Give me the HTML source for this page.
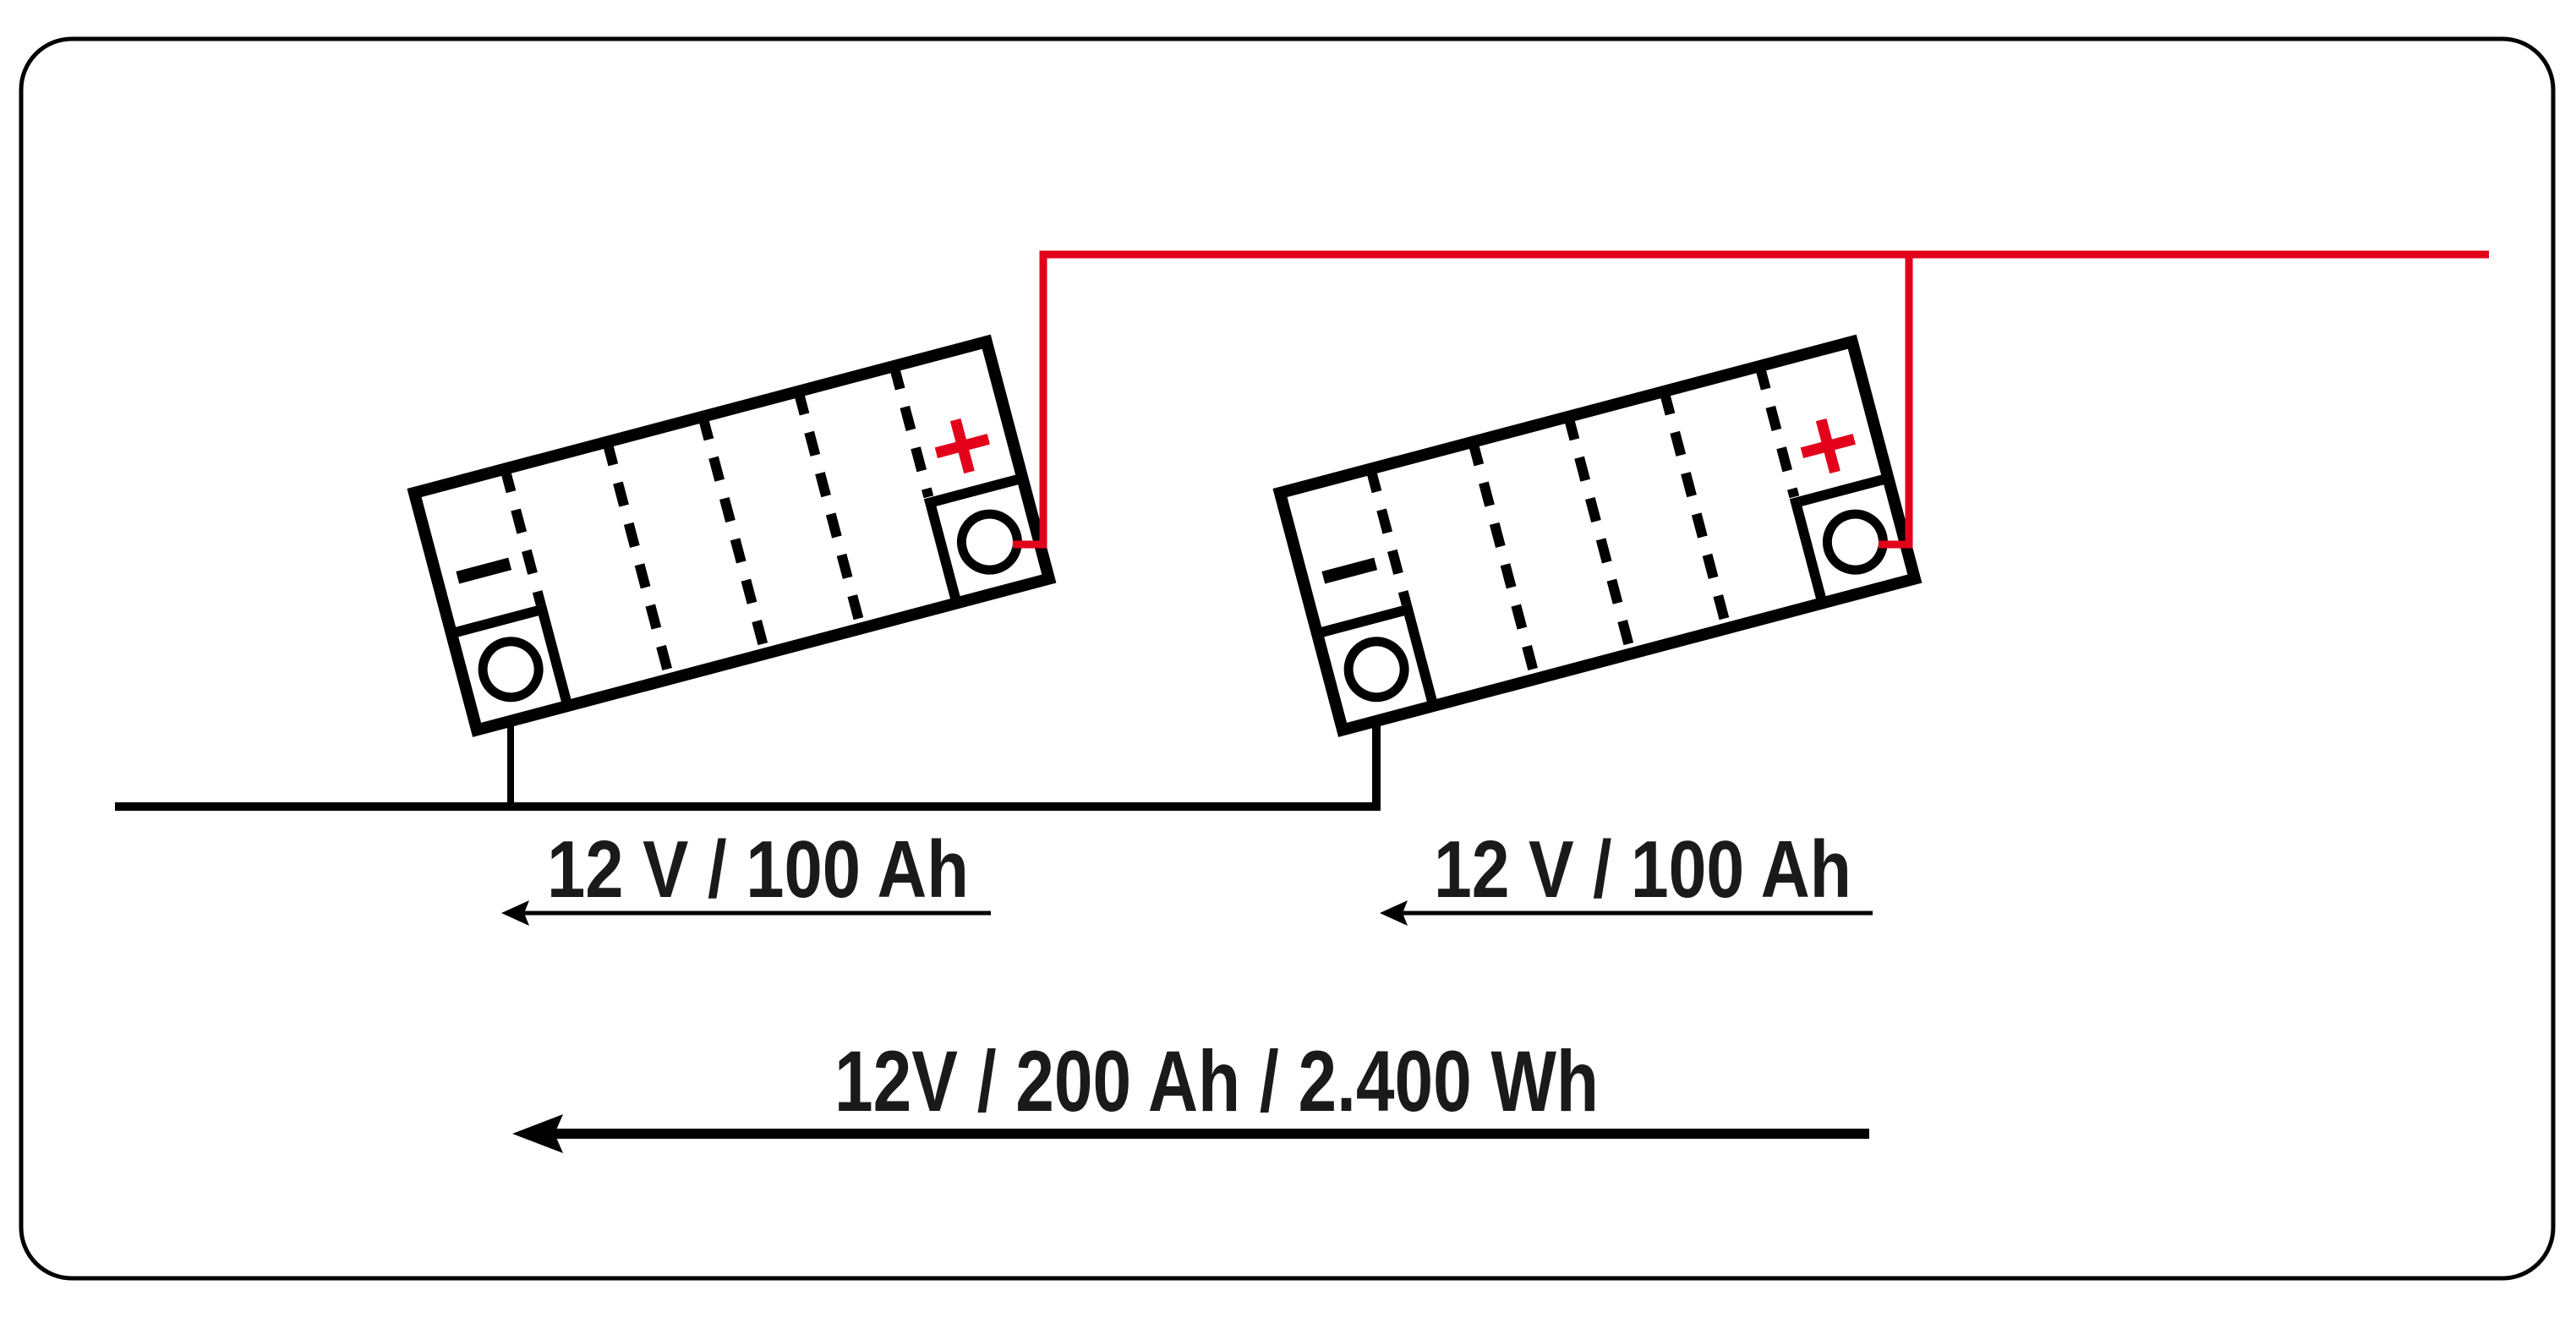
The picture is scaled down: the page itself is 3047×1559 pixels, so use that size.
<!DOCTYPE html>
<html><head><meta charset="utf-8"><style>
html,body{margin:0;padding:0;background:#fff;}
svg{display:block;}
</style></head><body>
<svg width="3047" height="1559" viewBox="0 0 3047 1559" xmlns="http://www.w3.org/2000/svg">
<rect x="0" y="0" width="3047" height="1559" fill="#fff"/>
<rect x="25" y="46" width="2995" height="1466" rx="60" ry="60" fill="none" stroke="#000" stroke-width="5"/>

<defs>
<g id="bat">
  <rect x="0" y="0" width="700" height="290" fill="#fff" stroke="#000" stroke-width="14"/>
  <polyline points="0,172 111,172 111,290" fill="none" stroke="#000" stroke-width="12"/>
  <circle cx="57" cy="231" r="33" fill="none" stroke="#000" stroke-width="11"/>
  <polyline points="700,167 587,167 587,290" fill="none" stroke="#000" stroke-width="12"/>
  <circle cx="643" cy="230" r="33" fill="none" stroke="#000" stroke-width="11"/>
  <g stroke="#000" stroke-width="12" stroke-dasharray="28 22">
    <line x1="111" y1="0" x2="111" y2="166"/>
    <line x1="236" y1="0" x2="236" y2="284"/>
    <line x1="353" y1="0" x2="353" y2="284"/>
    <line x1="470" y1="0" x2="470" y2="284"/>
    <line x1="587" y1="0" x2="587" y2="160"/>
  </g>
  <line x1="24" y1="110" x2="88" y2="110" stroke="#000" stroke-width="15"/>
  <g stroke="#e2001a" stroke-width="13">
    <line x1="609" y1="112" x2="673" y2="112"/>
    <line x1="641" y1="80" x2="641" y2="144"/>
  </g>
</g>
</defs>

<polyline points="136,954 1628,954 1628,850" fill="none" stroke="#000" stroke-width="10"/>
<line x1="604" y1="954" x2="604" y2="830" stroke="#000" stroke-width="8"/>

<g transform="translate(490,583) rotate(-14.8)"><use href="#bat"/></g>
<g transform="translate(1514,583) rotate(-14.8)"><use href="#bat"/></g>

<g fill="none" stroke="#e2001a" stroke-width="9">
  <polyline points="1198,644 1234,644 1234,301 2944,301"/>
  <polyline points="2222,644 2258,644 2258,301"/>
</g>

<g font-family="'Liberation Sans Narrow', 'Liberation Sans', sans-serif" font-weight="bold" fill="#1a1a1a">
  <text x="647" y="1061" font-size="96" textLength="499" lengthAdjust="spacingAndGlyphs">12 V / 100 Ah</text>
  <text x="1696" y="1061" font-size="96" textLength="494" lengthAdjust="spacingAndGlyphs">12 V / 100 Ah</text>
  <text x="987" y="1314" font-size="102" textLength="904" lengthAdjust="spacingAndGlyphs">12V / 200 Ah / 2.400 Wh</text>
</g>

<line x1="1172" y1="1080" x2="615" y2="1080" stroke="#000" stroke-width="5"/>
<polygon points="593,1080 626,1065 620,1080 626,1095" fill="#000"/>
<line x1="2215" y1="1080" x2="1654" y2="1080" stroke="#000" stroke-width="5"/>
<polygon points="1632,1080 1665,1065 1659,1080 1665,1095" fill="#000"/>
<line x1="2211" y1="1341" x2="650" y2="1341" stroke="#000" stroke-width="12"/>
<polygon points="606,1341 666,1318 656,1341 666,1364" fill="#000"/>
</svg>
</body></html>
